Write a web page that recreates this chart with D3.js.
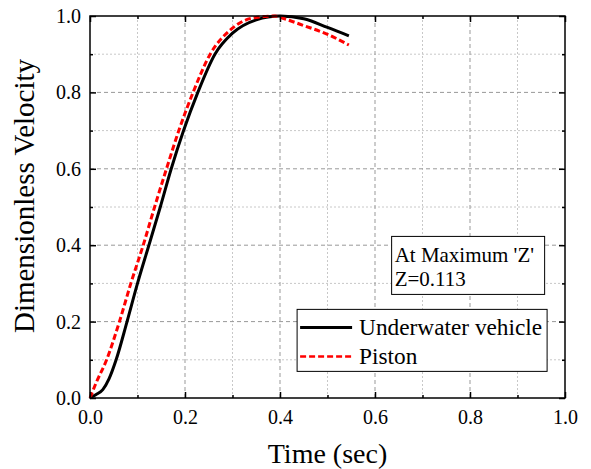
<!DOCTYPE html>
<html>
<head>
<meta charset="utf-8">
<script src="https://cdn.jsdelivr.net/npm/d3@7"></script>
<style>
  body { margin: 0; background: #fff; }
  svg text { font-family: "Liberation Serif", "Times New Roman", serif; fill: #000; }
</style>
</head>
<body>
<div id="chart"></div>
<script>
// time (sec) and dimensionless velocity
const vehicleT = [0, 0.013, 0.027, 0.04, 0.055, 0.078, 0.1, 0.124, 0.148, 0.171, 0.197, 0.227, 0.263, 0.3, 0.35, 0.4, 0.45, 0.5, 0.545];
const vehicleV = [0, 0.009, 0.022, 0.05, 0.1, 0.2, 0.3, 0.4, 0.5, 0.6, 0.7, 0.8, 0.9, 0.955, 0.99, 1.0, 0.993, 0.97, 0.948];
const pistonT = [0, 0.013, 0.035, 0.062, 0.086, 0.112, 0.136, 0.161, 0.187, 0.217, 0.253, 0.295, 0.343, 0.39, 0.406, 0.45, 0.5, 0.545];
const pistonV = [0, 0.04, 0.1, 0.2, 0.3, 0.4, 0.5, 0.6, 0.7, 0.8, 0.9, 0.963, 0.995, 1.0, 0.994, 0.975, 0.952, 0.924];
const majorTicks = [0, 0.2, 0.4, 0.6, 0.8, 1.0];
const minorTicks = [0.1, 0.3, 0.5, 0.7, 0.9];
const legendLabels = ["Underwater vehicle", "Piston"];
const noteLines = ["At Maximum 'Z'", "Z=0.113"];

const width = 591, height = 469;
const margin = { top: 16, right: 26, bottom: 71, left: 90 };
const w = width - margin.left - margin.right;
const h = height - margin.top - margin.bottom;

const svg = d3.select("#chart").append("svg")
    .attr("width", width)
    .attr("height", height);

const g = svg.append("g")
    .attr("transform", `translate(${margin.left},${margin.top})`);

const x = d3.scaleLinear().domain([0, 1]).range([0, w]);
const y = d3.scaleLinear().domain([0, 1]).range([h, 0]);

// grid
g.selectAll(".gmx").data(minorTicks).enter().append("line")
    .attr("x1", d => x(d)).attr("x2", d => x(d)).attr("y1", 0).attr("y2", h)
    .attr("stroke", "#c8c8c8").attr("stroke-width", 1).attr("stroke-dasharray", "2,2");
g.selectAll(".gmy").data(minorTicks).enter().append("line")
    .attr("y1", d => y(d)).attr("y2", d => y(d)).attr("x1", 0).attr("x2", w)
    .attr("stroke", "#c8c8c8").attr("stroke-width", 1).attr("stroke-dasharray", "2,2");
g.selectAll(".gMx").data(majorTicks.slice(1, -1)).enter().append("line")
    .attr("x1", d => x(d)).attr("x2", d => x(d)).attr("y1", 0).attr("y2", h)
    .attr("stroke", "#999").attr("stroke-width", 1).attr("stroke-dasharray", "4,3");
g.selectAll(".gMy").data(majorTicks.slice(1, -1)).enter().append("line")
    .attr("y1", d => y(d)).attr("y2", d => y(d)).attr("x1", 0).attr("x2", w)
    .attr("stroke", "#999").attr("stroke-width", 1).attr("stroke-dasharray", "4,3");

// curves
const line = d3.line().curve(d3.curveMonotoneX)
    .x(d => x(d[0])).y(d => y(d[1]));

g.append("path")
    .datum(vehicleT.map((t, i) => [t, vehicleV[i]]))
    .attr("d", line)
    .attr("fill", "none").attr("stroke", "#000").attr("stroke-width", 3);

g.append("path")
    .datum(pistonT.map((t, i) => [t, pistonV[i]]))
    .attr("d", line)
    .attr("fill", "none").attr("stroke", "#ff0000").attr("stroke-width", 3)
    .attr("stroke-dasharray", "6,3");

// axes, ticks inward on all sides
function styleAxis(sel) {
    sel.attr("font-family", null).attr("font-size", null);
    sel.select(".domain").remove();
    sel.selectAll(".tick line").attr("stroke", "#000").attr("stroke-width", 1.5);
    sel.selectAll("text").style("font-size", "20px");
}
const fmt = d3.format(".1f");

g.append("g").attr("transform", `translate(0,${h})`)
    .call(d3.axisBottom(x).tickValues(majorTicks).tickSize(-6).tickPadding(12).tickFormat(fmt))
    .call(styleAxis);
g.append("g").attr("transform", `translate(0,${h})`)
    .call(d3.axisBottom(x).tickValues(minorTicks).tickSize(-3).tickFormat(""))
    .call(styleAxis);
g.append("g").call(d3.axisTop(x).tickValues(majorTicks).tickSize(-6).tickFormat("")).call(styleAxis);
g.append("g").call(d3.axisTop(x).tickValues(minorTicks).tickSize(-3).tickFormat("")).call(styleAxis);

g.append("g")
    .call(d3.axisLeft(y).tickValues(majorTicks).tickSize(-6).tickPadding(9).tickFormat(fmt))
    .call(styleAxis);
g.append("g").call(d3.axisLeft(y).tickValues(minorTicks).tickSize(-3).tickFormat("")).call(styleAxis);
g.append("g").attr("transform", `translate(${w},0)`)
    .call(d3.axisRight(y).tickValues(majorTicks).tickSize(-6).tickFormat("")).call(styleAxis);
g.append("g").attr("transform", `translate(${w},0)`)
    .call(d3.axisRight(y).tickValues(minorTicks).tickSize(-3).tickFormat("")).call(styleAxis);

g.append("rect")
    .attr("width", w).attr("height", h)
    .attr("fill", "none").attr("stroke", "#000").attr("stroke-width", 1.5);

// axis titles
svg.append("text")
    .attr("x", margin.left + w / 2).attr("y", 463)
    .attr("text-anchor", "middle")
    .style("font-size", "28px")
    .text("Time (sec)");

svg.append("text")
    .attr("transform", `translate(34,196) rotate(-90)`)
    .attr("text-anchor", "middle")
    .style("font-size", "29px")
    .text("Dimensionless Velocity");

// annotation box
const note = g.append("g").attr("transform", `translate(${x(0.635)},${y(0.423)})`);
note.append("rect").attr("width", 153).attr("height", 58)
    .attr("fill", "#fff").attr("stroke", "#000").attr("stroke-width", 1);
note.selectAll("text").data(noteLines).enter().append("text")
    .attr("x", 3).attr("y", (d, i) => 26 + i * 24)
    .style("font-size", "21px")
    .text(d => d);

// legend
const legend = g.append("g").attr("transform", `translate(${x(0.436)},${y(0.232)})`);
legend.append("rect").attr("width", 250).attr("height", 62)
    .attr("fill", "#fff").attr("stroke", "#000").attr("stroke-width", 1);
const items = legend.selectAll(".item").data(legendLabels).enter().append("g")
    .attr("transform", (d, i) => `translate(0,${18 + i * 29})`);
items.append("line")
    .attr("x1", 3).attr("x2", 55)
    .attr("stroke", (d, i) => i === 0 ? "#000" : "#ff0000")
    .attr("stroke-width", (d, i) => i === 0 ? 3 : 2.5)
    .attr("stroke-dasharray", (d, i) => i === 0 ? null : "6,3");
items.append("text")
    .attr("x", 62).attr("y", 8)
    .style("font-size", "23.3px")
    .text(d => d);
</script>
</body>
</html>
